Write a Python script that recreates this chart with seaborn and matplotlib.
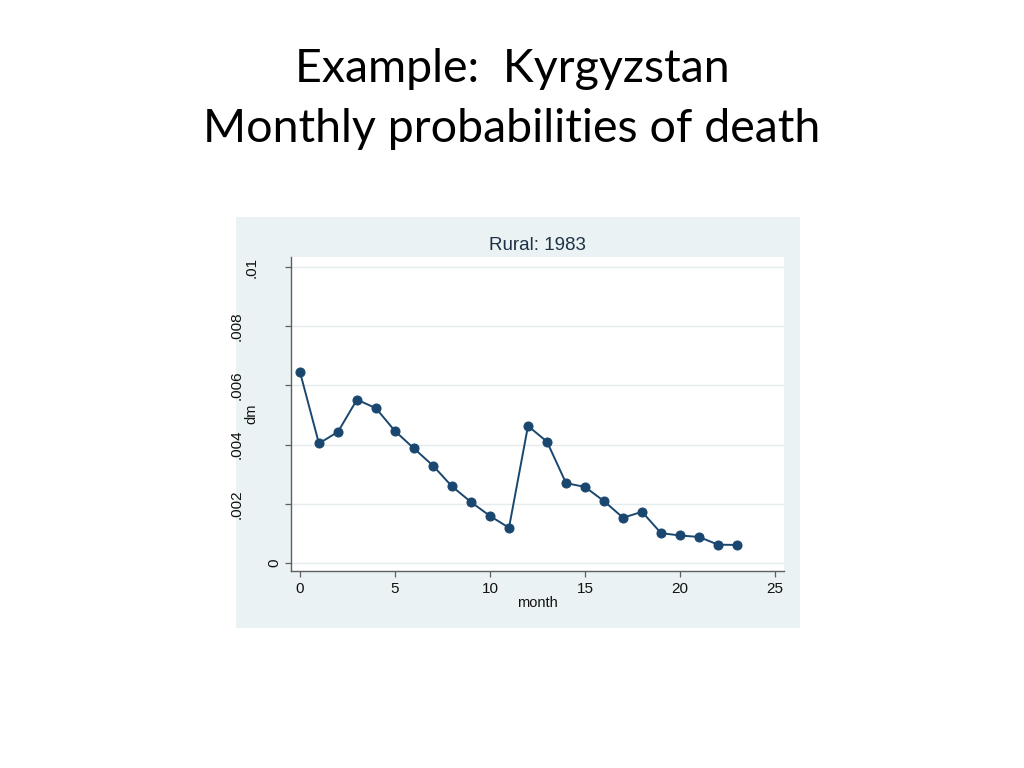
import matplotlib
matplotlib.use("Agg")
import matplotlib.pyplot as plt
import matplotlib.transforms as mtransforms
from matplotlib.patches import Rectangle
import seaborn as sns
import pandas as pd

# ---- data ----
month = list(range(24))
dm = [0.00646, 0.00404, 0.00443, 0.00552, 0.00523, 0.00446, 0.00387, 0.00329,
      0.00259, 0.00206, 0.00159, 0.00119, 0.00463, 0.00410, 0.00270, 0.00257,
      0.00209, 0.00153, 0.00173, 0.00101, 0.00093, 0.00088, 0.00062, 0.00061]
xticks = [0, 5, 10, 15, 20, 25]
yticks = [0, 0.002, 0.004, 0.006, 0.008, 0.01]
ytick_labels = ["0", ".002", ".004", ".006", ".008", ".01"]
slide_title = "Example:  Kyrgyzstan\nMonthly probabilities of death"
panel_title = "Rural: 1983"

df = pd.DataFrame({"month": month, "dm": dm})

sns.set_theme(style="white")
plt.rcParams["font.family"] = ["Liberation Sans", "DejaVu Sans"]

NAVY = "#1a476f"
PANEL = "#eaf2f3"

fig = plt.figure(figsize=(10.24, 7.68), dpi=100)
fig.patch.set_facecolor("white")

# Stata-like graph region
fig.patches.append(Rectangle((236 / 1024, 1 - 628 / 768), (800 - 236) / 1024, (628 - 217) / 768,
                             transform=fig.transFigure, facecolor=PANEL, edgecolor="none", zorder=-5))

ax = fig.add_axes([291 / 1024, 1 - 571 / 768, (784 - 291) / 1024, (571 - 257) / 768])
ax.set_zorder(1)
ax.set_facecolor("white")

sns.lineplot(data=df, x="month", y="dm", ax=ax, color=NAVY, linewidth=1.4,
             marker="o", markersize=6.5, markeredgecolor=NAVY, markerfacecolor=NAVY)

ax.set_xlim(-0.47, 25.47)
ax.set_ylim(-0.00027, 0.01034)
ax.set_xticks(xticks)
ax.set_xticklabels([str(t) for t in xticks])
ax.set_yticks(yticks)
ax.set_yticklabels(ytick_labels, rotation=90, va="center", ha="right")

for g in yticks:
    ax.axhline(g, color="#e4ecee", linewidth=1.0, zorder=0)

for s in ["top", "right"]:
    ax.spines[s].set_visible(False)
for s in ["left", "bottom"]:
    ax.spines[s].set_color("#5f5f5f")
    ax.spines[s].set_linewidth(1.0)

ax.tick_params(axis="both", which="major", direction="out", length=4.5, width=0.9,
               color="#5f5f5f", labelsize=11, labelcolor="#111111",
               left=True, bottom=True)
ax.tick_params(axis="x", pad=3.5)
ax.tick_params(axis="y", pad=2)

ax.set_xlabel("month", fontsize=10.5, color="#111111", labelpad=0)
ax.set_ylabel("dm", fontsize=10.5, color="#111111", labelpad=2)
ax.yaxis.set_label_coords(-0.066, 0.5)

ax.set_title(panel_title, fontsize=13.5, color="#1e3246", pad=5)

fig.text(0.5, 1 - 99 / 768, slide_title, ha="center", va="center", fontsize=33.5,
         family=["Lato", "DejaVu Sans"], color="black", linespacing=1.5)

# Stata-style staggered rotated y tick labels
fig.canvas.draw()
labels = ax.get_yticklabels()
lens = [lab.get_window_extent().height for lab in labels]
base = min(lens)
for lab, L in zip(labels, lens):
    dx = -1.75 * (L - base) - 1
    lab.set_transform(lab.get_transform() + mtransforms.Affine2D().translate(dx, 0))

fig.savefig("out.png", dpi=100, facecolor="white")
